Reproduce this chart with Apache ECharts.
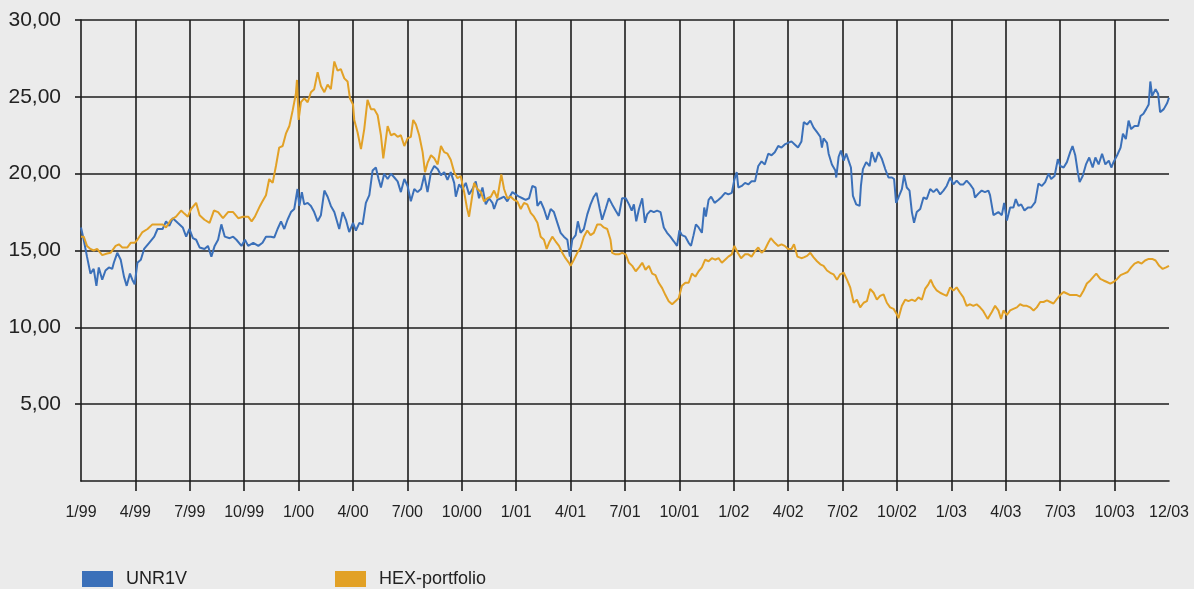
<!DOCTYPE html>
<html>
<head>
<meta charset="utf-8">
<script src="https://cdn.jsdelivr.net/npm/echarts@6/dist/echarts.min.js"></script>
<style>
html,body{margin:0;padding:0;background:#ebebeb;}
#chart{width:1194px;height:589px;}
</style>
</head>
<body>
<div id="chart"></div>
<script>
// x = months since 1/99, y = price
const seriesNames = ['UNR1V', 'HEX-portfolio'];
const yTicks = [0, 5, 10, 15, 20, 25, 30];
const yTickMarks = [5, 10, 15, 20, 25, 30];
const xTickMarks = [3, 6, 9, 12, 15, 18, 21, 24, 27, 30, 33, 36, 39, 42, 45, 48, 51, 54, 57];

const unr1v = [
[0,16.5],[0.15,15.7],[0.33,14.6],[0.52,13.5],[0.7,13.8],[0.85,12.7],[0.98,13.9],[1.17,13.1],[1.35,13.7],[1.54,13.9],[1.72,13.8],[1.81,14.2],[2.0,14.85],[2.19,14.4],[2.37,13.3],[2.52,12.7],[2.7,13.5],[2.83,13.1],[2.96,12.8],[3.11,14.2],[3.3,14.4],[3.48,15.1],[3.76,15.5],[4.04,15.9],[4.22,16.4],[4.5,16.4],[4.69,16.9],[4.87,16.6],[5.06,17.1],[5.33,16.8],[5.61,16.5],[5.8,15.9],[5.98,16.4],[6.17,15.8],[6.35,15.7],[6.54,15.2],[6.81,15.1],[7.0,15.3],[7.19,14.6],[7.37,15.3],[7.56,15.7],[7.74,16.7],[7.93,15.9],[8.2,15.8],[8.39,15.9],[8.57,15.7],[8.85,15.3],[9.04,15.7],[9.22,15.3],[9.5,15.5],[9.78,15.3],
[10.01,15.5],[10.2,15.9],[10.47,15.9],[10.66,15.85],[10.84,16.4],[11.03,16.9],[11.21,16.4],[11.39,17.0],[11.58,17.5],[11.76,17.7],[11.94,19.0],[12.04,17.9],[12.18,18.8],[12.31,18.0],[12.5,18.1],[12.68,17.9],[12.86,17.5],[13.05,16.9],[13.23,17.3],[13.42,18.9],[13.6,18.5],[13.78,17.9],[13.97,17.5],[14.24,16.4],[14.43,17.5],[14.61,17.0],[14.79,16.2],[15.0,16.8],[15.16,16.3],[15.35,16.8],[15.53,16.7],[15.71,18.1],[15.9,18.6],[16.08,20.2],[16.26,20.4],[16.41,19.65],[16.54,19.1],[16.72,20.0],[16.91,19.65],[17.09,20.0],[17.28,19.75],[17.46,19.5],[17.64,18.8],[17.83,19.65],[18.01,19.2],[18.19,18.2],[18.38,19.0],[18.56,18.8],[18.75,19.0],[18.93,19.9],[19.11,18.8],[19.3,20.1],[19.48,20.5],[19.67,20.3],[19.85,19.9],
[20.03,20.1],[20.21,19.6],[20.39,20.1],[20.58,19.4],[20.67,18.5],[20.85,19.3],[21.04,19.0],[21.22,19.4],[21.4,18.65],[21.59,19.0],[21.77,19.5],[21.95,18.4],[22.14,19.1],[22.32,18.0],[22.5,18.4],[22.69,18.1],[22.78,17.7],[22.96,18.3],[23.15,18.4],[23.33,18.5],[23.51,18.2],[23.79,18.8],[23.97,18.65],[24.16,18.5],[24.34,18.4],[24.52,18.3],[24.71,18.4],[24.89,19.2],[25.07,19.1],[25.17,17.9],[25.35,18.2],[25.53,17.7],[25.72,17.0],[25.9,17.7],[26.08,17.5],[26.27,16.8],[26.45,16.15],[26.63,15.9],[26.82,15.7],[26.96,14.6],[27.09,15.7],[27.28,16.0],[27.4,16.9],[27.55,16.15],[27.73,16.4],[27.92,17.35],[28.1,18.0],[28.28,18.5],[28.43,18.75],[28.61,17.7],[28.74,17.0],[28.93,17.7],[29.11,18.4],[29.29,18.0],[29.48,17.6],[29.66,17.25],[29.84,18.4],
[30.04,18.4],[30.22,18.0],[30.37,17.6],[30.49,18.0],[30.62,16.9],[30.77,17.7],[30.95,18.4],[31.1,16.8],[31.22,17.35],[31.41,17.6],[31.59,17.5],[31.77,17.6],[31.96,17.5],[32.14,16.5],[32.32,16.15],[32.5,15.9],[32.69,15.6],[32.87,15.3],[33.0,16.3],[33.14,16.0],[33.33,15.9],[33.51,15.5],[33.64,15.3],[33.78,16.0],[33.91,16.7],[34.06,16.5],[34.24,16.15],[34.37,17.8],[34.46,17.2],[34.61,18.3],[34.75,18.5],[34.94,18.1],[35.16,18.3],[35.34,18.5],[35.52,18.75],[35.7,18.65],[35.89,18.75],[36.03,19.6],[36.16,20.1],[36.25,19.1],[36.44,19.2],[36.62,19.4],[36.8,19.3],[36.98,19.5],[37.17,19.5],[37.35,20.5],[37.53,20.8],[37.71,20.6],[37.9,21.3],[38.08,21.2],[38.26,21.4],[38.45,21.8],[38.63,21.7],[38.81,21.9],[38.99,22.0],[39.18,22.1],[39.36,21.9],[39.54,21.7],[39.73,22.1],[39.86,23.35],
[40.04,23.2],[40.22,23.45],[40.4,23.0],[40.59,22.7],[40.77,22.4],[40.86,21.7],[40.95,22.3],[41.14,22.0],[41.23,21.3],[41.41,20.6],[41.6,20.2],[41.65,19.75],[41.78,21.1],[41.91,21.5],[42.06,20.85],[42.2,21.3],[42.33,20.85],[42.46,20.4],[42.57,18.55],[42.75,18.0],[42.94,17.9],[43.01,19.2],[43.12,20.3],[43.3,20.75],[43.49,20.5],[43.61,21.4],[43.8,20.75],[43.98,21.4],[44.17,20.95],[44.35,20.3],[44.53,19.75],[44.72,19.75],[44.84,19.65],[44.95,18.1],[45.08,18.45],[45.27,19.0],[45.39,19.9],[45.54,19.1],[45.69,18.9],[45.82,17.5],[45.94,16.8],[46.09,17.5],[46.28,17.7],[46.46,18.45],[46.64,18.35],[46.83,19.0],[47.01,18.8],[47.19,19.0],[47.38,18.65],[47.56,18.9],[47.74,19.2],[47.93,19.75],[48.11,19.3],[48.29,19.55],[48.48,19.3],[48.66,19.3],[48.84,19.55],[49.03,19.3],[49.21,19.0],[49.3,18.45],[49.49,18.7],[49.67,18.9],[49.85,18.8],
[50.04,18.9],[50.13,18.6],[50.32,17.3],[50.41,17.2],[50.59,17.5],[50.78,17.3],[50.91,18.1],[51.06,16.95],[51.24,17.8],[51.42,17.8],[51.55,18.35],[51.7,17.9],[51.85,18.0],[52.03,17.6],[52.22,17.8],[52.4,17.8],[52.62,18.15],[52.8,19.35],[52.99,19.2],[53.17,19.45],[53.36,20.0],[53.5,19.65],[53.69,19.85],[53.87,20.95],[54.0,20.5],[54.19,20.4],[54.37,20.75],[54.55,21.4],[54.68,21.8],[54.83,21.2],[54.97,20.1],[55.07,19.45],[55.24,19.85],[55.42,20.6],[55.6,21.05],[55.79,20.4],[55.94,21.05],[56.12,20.6],[56.31,21.3],[56.49,20.6],[56.68,20.85],[56.82,20.4],[56.94,20.75],[57.14,21.2],[57.33,21.7],[57.46,22.6],[57.62,22.25],[57.77,23.45],[57.91,22.9],[58.1,23.1],[58.3,23.1],[58.43,23.75],[58.59,23.9],[58.74,24.2],[58.88,24.5],[58.97,26.0],[59.07,25.05],[59.26,25.5],[59.4,25.2],[59.51,24.0],[59.71,24.2],[59.9,24.6],[60.0,24.95]
];

const hexPortfolio = [
[0,15.9],[0.15,15.9],[0.33,15.3],[0.52,15.1],[0.7,15.0],[0.89,15.1],[1.17,14.7],[1.44,14.8],[1.63,14.85],[1.91,15.3],[2.09,15.4],[2.28,15.2],[2.56,15.2],[2.74,15.5],[2.96,15.5],[3.11,15.7],[3.39,16.2],[3.67,16.4],[3.94,16.7],[4.22,16.7],[4.5,16.7],[4.69,16.5],[4.96,17.0],[5.24,17.2],[5.52,17.6],[5.7,17.4],[5.89,17.2],[6.07,17.7],[6.35,18.1],[6.54,17.3],[6.81,17.0],[7.09,16.8],[7.33,17.6],[7.56,17.5],[7.83,17.1],[8.11,17.5],[8.39,17.5],[8.67,17.1],[8.94,17.2],[9.22,17.2],[9.41,16.9],[9.59,17.2],[9.87,17.9],
[10.01,18.2],[10.2,18.6],[10.38,19.65],[10.57,19.4],[10.75,20.5],[10.93,21.7],[11.12,21.8],[11.3,22.6],[11.49,23.1],[11.67,24.1],[11.85,25.2],[11.91,26.1],[12.0,23.5],[12.13,24.65],[12.31,24.9],[12.5,24.65],[12.68,25.3],[12.86,25.5],[13.05,26.6],[13.23,25.7],[13.42,25.3],[13.6,25.8],[13.78,25.5],[13.97,27.3],[14.15,26.7],[14.33,26.8],[14.52,26.2],[14.7,26.0],[14.83,24.9],[15.0,24.5],[15.07,23.5],[15.25,22.7],[15.44,21.6],[15.62,22.9],[15.8,24.8],[15.99,24.2],[16.17,24.2],[16.36,23.8],[16.54,22.5],[16.67,21.0],[16.91,23.1],[17.09,22.5],[17.28,22.6],[17.46,22.4],[17.64,22.5],[17.83,21.8],[18.01,22.3],[18.19,22.4],[18.32,23.5],[18.47,23.2],[18.65,22.5],[18.84,21.4],[18.97,20.1],[19.11,20.7],[19.3,21.2],[19.48,21.0],[19.67,20.6],[19.85,21.8],
[20.03,21.4],[20.21,21.3],[20.39,20.9],[20.58,20.1],[20.76,19.7],[20.94,19.85],[21.13,18.8],[21.28,17.8],[21.4,17.2],[21.53,18.2],[21.68,19.4],[21.86,19.0],[22.05,18.8],[22.23,18.2],[22.41,18.4],[22.6,18.5],[22.78,18.9],[22.96,18.4],[23.18,19.95],[23.33,19.0],[23.51,18.4],[23.7,18.5],[23.88,18.3],[24.06,18.2],[24.25,17.7],[24.43,18.1],[24.61,18.0],[24.8,17.45],[24.98,17.2],[25.17,16.8],[25.35,15.9],[25.53,15.7],[25.68,15.1],[25.81,15.5],[25.99,15.9],[26.17,15.6],[26.36,15.3],[26.54,14.85],[26.72,14.5],[26.91,14.2],[27.0,14.0],[27.18,14.4],[27.37,14.85],[27.55,15.2],[27.73,15.9],[27.92,16.3],[28.1,16.0],[28.28,16.15],[28.47,16.7],[28.65,16.7],[28.83,16.5],[29.02,16.4],[29.2,15.7],[29.29,14.85],[29.48,14.75],[29.66,14.75],[29.84,14.85],
[30.04,14.75],[30.22,14.2],[30.4,14.0],[30.59,13.65],[30.77,13.9],[30.95,14.2],[31.13,13.75],[31.32,14.0],[31.5,13.5],[31.68,13.4],[31.86,12.9],[32.05,12.55],[32.23,12.1],[32.41,11.7],[32.6,11.5],[32.78,11.7],[32.96,11.9],[33.14,12.7],[33.33,12.9],[33.51,12.9],[33.69,13.5],[33.88,13.3],[34.06,13.65],[34.24,13.9],[34.42,14.4],[34.61,14.3],[34.79,14.5],[34.97,14.4],[35.16,14.5],[35.34,14.2],[35.52,14.4],[35.7,14.6],[35.89,14.75],[36.03,15.3],[36.22,14.85],[36.4,14.5],[36.62,14.75],[36.8,14.75],[36.98,14.6],[37.17,14.95],[37.35,15.2],[37.53,14.85],[37.71,15.05],[37.9,15.5],[38.04,15.8],[38.26,15.5],[38.45,15.3],[38.63,15.4],[38.81,15.3],[38.99,15.1],[39.18,15.1],[39.32,15.4],[39.51,14.6],[39.73,14.5],[39.86,14.55],
[40.04,14.65],[40.22,14.85],[40.4,14.55],[40.59,14.3],[40.77,14.1],[40.95,14.0],[41.14,13.7],[41.32,13.55],[41.5,13.45],[41.69,13.1],[41.87,13.45],[42.06,13.55],[42.24,13.1],[42.42,12.6],[42.61,11.6],[42.79,11.8],[42.97,11.3],[43.16,11.6],[43.34,11.7],[43.52,12.5],[43.71,12.25],[43.89,11.8],[44.07,12.05],[44.26,12.15],[44.44,11.6],[44.62,11.3],[44.81,11.2],[44.99,10.85],[45.08,10.6],[45.27,11.4],[45.45,11.8],[45.63,11.7],[45.82,11.8],[46.0,11.7],[46.18,11.95],[46.37,11.8],[46.55,12.5],[46.73,12.8],[46.86,13.1],[47.01,12.7],[47.19,12.4],[47.38,12.25],[47.56,12.15],[47.74,12.05],[47.93,12.6],[48.11,12.4],[48.29,12.6],[48.48,12.25],[48.66,11.95],[48.84,11.4],[49.03,11.5],[49.21,11.4],[49.39,11.5],[49.58,11.3],[49.76,11.05],
[50.0,10.55],[50.23,11.0],[50.41,11.4],[50.59,11.1],[50.74,10.55],[50.87,11.1],[51.06,10.8],[51.24,11.1],[51.42,11.2],[51.61,11.3],[51.79,11.5],[51.98,11.4],[52.16,11.4],[52.34,11.3],[52.53,11.1],[52.71,11.3],[52.9,11.65],[53.08,11.65],[53.27,11.75],[53.45,11.65],[53.63,11.55],[53.82,11.85],[54.0,12.1],[54.19,12.3],[54.37,12.2],[54.55,12.1],[54.74,12.1],[54.92,12.1],[55.1,12.0],[55.29,12.4],[55.47,12.85],[55.66,13.05],[55.84,13.3],[55.99,13.5],[56.21,13.15],[56.39,13.05],[56.58,12.95],[56.76,12.85],[56.94,12.95],[57.14,13.15],[57.33,13.4],[57.52,13.5],[57.72,13.6],[57.91,13.9],[58.1,14.15],[58.3,14.25],[58.49,14.15],[58.68,14.35],[58.88,14.45],[59.07,14.45],[59.26,14.35],[59.46,14.0],[59.65,13.8],[59.84,13.9],[60.0,14.0]
];

const colors = ['#3b70b9', '#e2a126'];
const gridColor = '#1c1c1c';
const textColor = '#222';
const fontFamily = '"Liberation Sans", Arial, sans-serif';

function xLabel(v) {
  if (v === 60) return '12/03';
  const month = (v % 12) + 1;
  const yr = (99 + Math.floor(v / 12)) % 100;
  return month + '/' + String(yr).padStart(2, '0');
}

const legendText = {fontSize: 18, color: textColor, fontFamily, padding: [0, 0, 0, 8]};
const chart = echarts.init(document.getElementById('chart'), null, {renderer: 'canvas'});
chart.setOption({
  backgroundColor: '#ebebeb',
  animation: false,
  grid: {left: 81, right: 25, top: 20, bottom: 108, containLabel: false},
  legend: [
    {data: [seriesNames[0]], left: 82, top: 570, padding: 0, itemWidth: 31, itemHeight: 16, icon: 'rect', textStyle: legendText},
    {data: [seriesNames[1]], left: 335, top: 570, padding: 0, itemWidth: 31, itemHeight: 16, icon: 'rect', textStyle: legendText}
  ],
  xAxis: {
    type: 'value', min: 0, max: 60, interval: 3,
    axisLine: {show: true, lineStyle: {color: gridColor, width: 1.6}},
    axisTick: {show: true, length: 10, customValues: xTickMarks, lineStyle: {color: gridColor, width: 1.6}},
    splitLine: {show: true, lineStyle: {color: gridColor, width: 1.6}},
    axisLabel: {formatter: xLabel, fontSize: 16, color: textColor, fontFamily, margin: 24, showMinLabel: true, showMaxLabel: true}
  },
  yAxis: {
    type: 'value', min: yTicks[0], max: yTicks[yTicks.length - 1], interval: 5,
    axisLine: {show: true, lineStyle: {color: gridColor, width: 1.6}},
    axisTick: {show: true, length: 6, customValues: yTickMarks, lineStyle: {color: gridColor, width: 1.6}},
    splitLine: {show: true, lineStyle: {color: gridColor, width: 1.6}},
    axisLabel: {formatter: v => v === 0 ? '' : v.toFixed(2).replace('.', ','), fontSize: 21, color: textColor, fontFamily, margin: 20}
  },
  series: [
    {name: seriesNames[0], type: 'line', data: unr1v, showSymbol: false, symbol: 'none',
     lineStyle: {color: colors[0], width: 2}, itemStyle: {color: colors[0]}},
    {name: seriesNames[1], type: 'line', data: hexPortfolio, showSymbol: false, symbol: 'none',
     lineStyle: {color: colors[1], width: 2}, itemStyle: {color: colors[1]}}
  ]
});
</script>
</body>
</html>
